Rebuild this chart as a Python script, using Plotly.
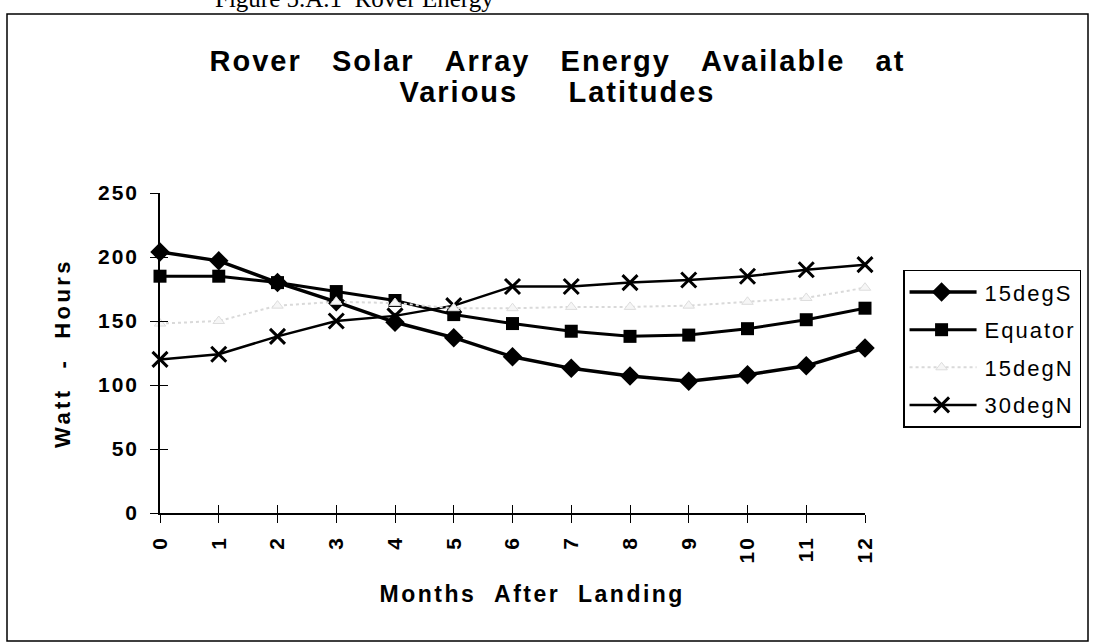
import plotly.graph_objects as go

months = list(range(13))
tick_labels = [str(m) for m in months]
deg15s = [204, 197, 180, 165, 149, 137, 122, 113, 107, 103, 108, 115, 129]
equator = [185, 185, 180, 173, 166, 155, 148, 142, 138, 139, 144, 151, 160]
deg15n = [148, 150, 162, 165, 164, 160, 160, 161, 161, 162, 165, 168, 176]
deg30n = [120, 124, 138, 150, 154, 162, 177, 177, 180, 182, 185, 190, 194]
y_ticks = [0, 50, 100, 150, 200, 250]

FONT = "Liberation Sans, Arial, sans-serif"
NB = "\u00a0"

fig = go.Figure()
fig.add_trace(go.Scatter(
    x=months, y=deg15s, name="15degS", mode="lines+markers",
    line=dict(color="black", width=3.5),
    marker=dict(symbol="diamond", size=15, color="black"),
    legendgroup="a", legendrank=1, cliponaxis=False))
fig.add_trace(go.Scatter(
    x=months, y=equator, name="Equator", mode="lines+markers",
    line=dict(color="black", width=3),
    marker=dict(symbol="square", size=13, color="black"),
    legendgroup="b", legendrank=2, cliponaxis=False))
fig.add_trace(go.Scatter(
    x=months, y=deg30n, name="30degN", mode="lines+markers",
    line=dict(color="black", width=2.5),
    marker=dict(symbol="x-thin", size=15, color="black",
                line=dict(width=3, color="black")),
    legendgroup="d", legendrank=4, cliponaxis=False))
fig.add_trace(go.Scatter(
    x=months, y=deg15n, name="15degN", mode="lines+markers",
    line=dict(color="#d9d9d9", width=2, dash="dot"),
    marker=dict(symbol="triangle-up", size=10, color="#f6f6f6",
                line=dict(width=1, color="#dddddd")),
    legendgroup="c", legendrank=3, cliponaxis=False))
# overlay axes used only to draw the inner half of the crossing ticks
fig.add_trace(go.Scatter(x=[0], y=[0], xaxis="x2", yaxis="y2", mode="markers",
                         marker=dict(opacity=0), showlegend=False,
                         hoverinfo="skip"))

tickfont = dict(family=FONT, size=21, color="black", weight="bold")
fig.update_layout(
    width=1093, height=644,
    paper_bgcolor="white", plot_bgcolor="white",
    margin=dict(l=160, r=228, t=193, b=131),
    title=dict(
        text=(f"Rover{NB*3}Solar{NB*3}Array{NB*3}Energy{NB*3}Available{NB*3}at"
              f"<br>Various{NB*5}Latitudes"),
        font=dict(family=FONT, size=29, color="black", weight="bold"),
        x=0.51, xref="container", xanchor="center",
        y=0.89, yref="container", yanchor="top"),
    xaxis=dict(range=[0, 12], tickvals=months, ticktext=tick_labels,
               tickangle=-90, tickfont=tickfont, ticks="outside", ticklen=8,
               tickwidth=1, tickcolor="black", showline=True,
               linecolor="black", linewidth=1.5, showgrid=False,
               zeroline=False, ticklabelstandoff=5),
    yaxis=dict(range=[0, 250], tickvals=y_ticks, tickfont=tickfont,
               ticks="outside", ticklen=8, tickwidth=1, tickcolor="black",
               showline=True, linecolor="black", linewidth=1.5,
               showgrid=False, zeroline=False, ticklabelstandoff=7,
               title=dict(text=f"Watt{NB*2}-{NB*2}Hours",
                          font=dict(family=FONT, size=22, color="black",
                                    weight="bold"), standoff=27)),
    xaxis2=dict(overlaying="x", anchor="y2", side="bottom", range=[0, 12],
                ticks="inside", ticklen=8, tickwidth=1, tickcolor="black",
                showticklabels=False, showgrid=False, zeroline=False,
                showline=False, tickvals=months),
    yaxis2=dict(overlaying="y", anchor="x2", side="left", range=[0, 250],
                ticks="inside", ticklen=8, tickwidth=1, tickcolor="black",
                showticklabels=False, showgrid=False, zeroline=False,
                showline=False, tickvals=y_ticks),
    legend=dict(x=1.054, xanchor="left", y=0.76, yanchor="top",
                bgcolor="white", bordercolor="black", borderwidth=1.5,
                font=dict(family=FONT, size=22, color="black"),
                tracegroupgap=6, itemwidth=70),
    showlegend=True,
)

# x-axis title, placed as in the reference (slightly right of centre)
fig.add_annotation(text=f"Months{NB*2}After{NB*2}Landing", xref="paper",
                   yref="paper", x=(532 - 160) / 705, xanchor="center",
                   y=(513 - 594) / 320, yanchor="middle", showarrow=False,
                   font=dict(family=FONT, size=23, color="black",
                             weight="bold"))
# outer chart frame
fig.add_shape(type="rect", xref="paper", yref="paper",
              x0=(7 - 160) / 705, x1=(1088 - 160) / 705,
              y0=(513 - 641) / 320, y1=(513 - 14) / 320,
              line=dict(color="black", width=1.5), fillcolor="rgba(0,0,0,0)",
              layer="below")
# page caption at the top of the scanned page
fig.add_annotation(text="Figure 5.A.1  Rover Energy", xref="paper", yref="paper",
                   x=(213 - 160) / 705, xanchor="left",
                   y=(513 - 14) / 320, yanchor="bottom", showarrow=False,
                   font=dict(family="Liberation Serif, Times New Roman, serif",
                             size=25, color="black"))

post = """
document.body.style.margin='0';
var gd=document.getElementById('{plot_id}');
function sp(){
 gd.querySelectorAll('.gtitle').forEach(function(e){e.style.letterSpacing='2px';});
 gd.querySelectorAll('.gtitle tspan.line').forEach(function(t,i){
   if(i>0){t.setAttribute('dy','1.08em');}});
 gd.querySelectorAll('.annotation-text').forEach(function(e){
   if(e.textContent.indexOf('Months')===0){e.style.letterSpacing='2.5px';}});
 gd.querySelectorAll('.ytitle').forEach(function(e){e.style.letterSpacing='3.4px';});
 gd.querySelectorAll('.xtick text, .ytick text').forEach(function(e){e.style.letterSpacing='2px';});
 gd.querySelectorAll('.legendtext').forEach(function(e){e.style.letterSpacing='2px';});
 gd.querySelectorAll('.legendlines path').forEach(function(e){e.setAttribute('d','M5,0h67');});
 gd.querySelectorAll('.legendpoints path.scatterpts').forEach(function(e){e.setAttribute('transform','translate(37,0)');});
 gd.querySelectorAll('.legend .scrollbox').forEach(function(e){e.removeAttribute('clip-path');});
 gd.querySelectorAll('.legend rect.bg').forEach(function(r){
   if(!r.getAttribute('data-w0')){r.setAttribute('data-w0', r.getAttribute('width'));}
   r.setAttribute('width', parseFloat(r.getAttribute('data-w0'))+12);});
}
sp();
gd.on('plotly_afterplot', sp);
"""
fig.write_html("out.html", post_script=post,
               config={"displayModeBar": False, "responsive": False})
